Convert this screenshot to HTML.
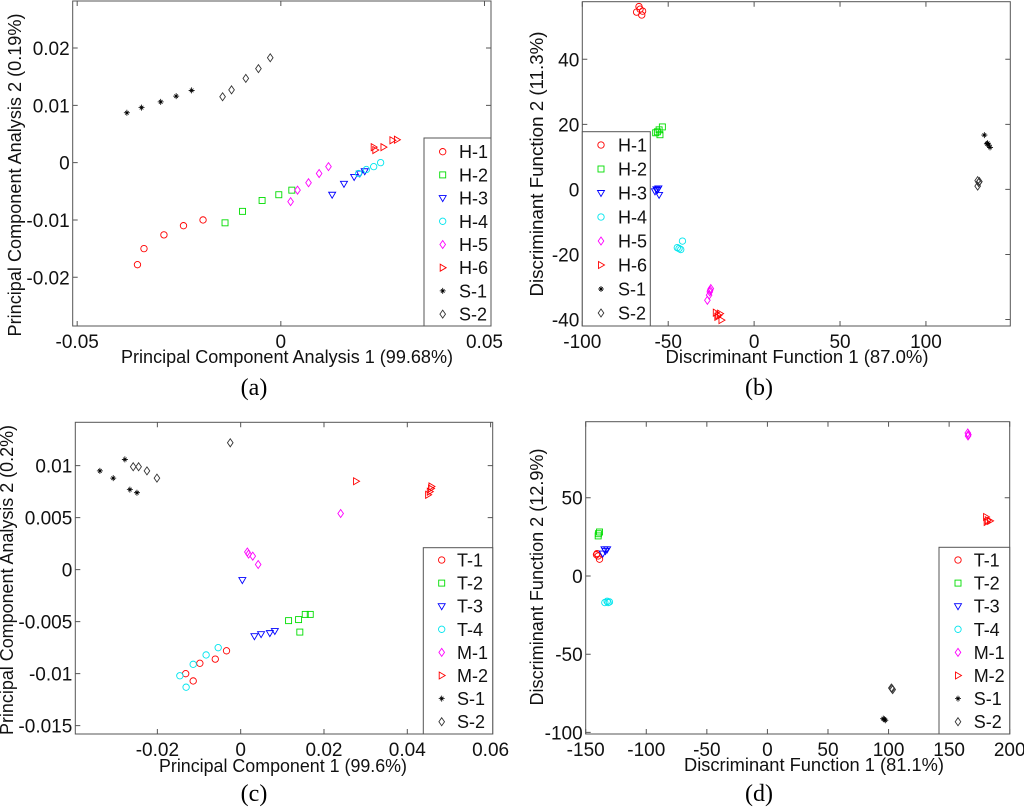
<!DOCTYPE html>
<html><head><meta charset="utf-8"><style>
html,body{margin:0;padding:0;background:#fff;}
svg{display:block;font-family:"Liberation Sans",Arial,sans-serif;}
</style></head><body>
<svg id="fig" width="1024" height="809" viewBox="0 0 1024 809"></svg>
<script>
// ---- Panel (a) data ----
const aNames = ['H-1','H-2','H-3','H-4','H-5','H-6','S-1','S-2'];
const aX = [
 [-0.0352,-0.0336,-0.0287,-0.0239,-0.0191],
 [-0.0137,-0.0094,-0.0046,-0.0005,0.0027],
 [0.0126,0.0155,0.0180,0.0194,0.0206],
 [0.0191,0.0210,0.0228,0.0245],
 [0.0024,0.0041,0.0068,0.0094,0.0117],
 [0.0228,0.0232,0.0252,0.0274,0.0285],
 [-0.0378,-0.0342,-0.0295,-0.0257,-0.0219],
 [-0.0143,-0.0121,-0.0086,-0.0055,-0.0026]];
const aY = [
 [-0.0178,-0.0150,-0.0126,-0.0110,-0.0100],
 [-0.0105,-0.0085,-0.0066,-0.0056,-0.0048],
 [-0.0056,-0.0037,-0.0025,-0.0019,-0.0015],
 [-0.0019,-0.0012,-0.0007,0.0000],
 [-0.0068,-0.0048,-0.0035,-0.0019,-0.0007],
 [0.0027,0.0022,0.0027,0.0039,0.0040],
 [0.0087,0.0096,0.0106,0.0116,0.0126],
 [0.0115,0.0127,0.0147,0.0164,0.0183]];
const aXTicks = [-0.05,0,0.05];
const aXTickLabels = ['-0.05','0','0.05'];
const aYTicks = [-0.02,-0.01,0,0.01,0.02];
const aYTickLabels = ['-0.02','-0.01','0','0.01','0.02'];

// ---- Panel (b) data ----
const bNames = ['H-1','H-2','H-3','H-4','H-5','H-6','S-1','S-2'];
const bX = [
 [-67,-68.4,-65.4,-64.9,-66.4],
 [-57.3,-55.3,-53.4,-54.8,-56.3],
 [-56.9,-55.7,-55.3,-57.7,-56.3],
 [-41.7,-43.7,-42.7,-44.7],
 [-25.2,-25.8,-26.2,-27.2,-25.6],
 [-22.3,-20.8,-19.0,-21.4,-19.8],
 [134,135.5,136.5,137.3,135.9],
 [130.1,130.7,130.1,131.1]];
const bY = [
 [56.2,54.5,53.6,54.8,55.4],
 [17.4,18.3,19.2,16.8,17.7],
 [0,0.3,-1.7,-0.6,-0.2],
 [-15.9,-18.2,-18.5,-17.9],
 [-30.5,-31.5,-32.5,-34.1,-31],
 [-37.9,-38.7,-40.2,-39.2,-38.2],
 [16.7,14,13.6,12.9,14.2],
 [2.7,2.1,1,2.4]];
const bXTicks = [-100,-50,0,50,100];
const bXTickLabels = ['-100','-50','0','50','100'];
const bYTicks = [-40,-20,0,20,40];
const bYTickLabels = ['-40','-20','0','20','40'];

// ---- Panel (c) data ----
const cNames = ['T-1','T-2','T-3','T-4','M-1','M-2','S-1','S-2'];
const cX = [
 [-0.0132,-0.0114,-0.0098,-0.0061,-0.0034],
 [0.0115,0.0139,0.0155,0.0167,0.0142],
 [0.0004,0.0033,0.0049,0.0070,0.0082],
 [-0.0146,-0.0131,-0.0114,-0.0083,-0.0054],
 [0.0016,0.0019,0.0029,0.0042,0.0240],
 [0.0277,0.0458,0.0454,0.0450,0.0457],
 [-0.0338,-0.0306,-0.0278,-0.0266,-0.0249],
 [-0.0258,-0.0245,-0.0225,-0.0201,-0.0025]];
const cY = [
 [-0.0100,-0.0107,-0.0090,-0.0086,-0.0078],
 [-0.0049,-0.0048,-0.0043,-0.0043,-0.0060],
 [-0.0010,-0.0064,-0.0062,-0.0061,-0.0059],
 [-0.0102,-0.0113,-0.0091,-0.0082,-0.0075],
 [0.0017,0.0015,0.0013,0.0005,0.0054],
 [0.0085,0.0080,0.0075,0.0072,0.0078],
 [0.0095,0.0088,0.0106,0.0077,0.0074],
 [0.0099,0.0099,0.0095,0.0088,0.0122]];
const cXTicks = [-0.02,0,0.02,0.04,0.06];
const cXTickLabels = ['-0.02','0','0.02','0.04','0.06'];
const cYTicks = [-0.015,-0.01,-0.005,0,0.005,0.01];
const cYTickLabels = ['-0.015','-0.01','-0.005','0','0.005','0.01'];

// ---- Panel (d) data ----
const dNames = ['T-1','T-2','T-3','T-4','M-1','M-2','S-1','S-2'];
const dX = [
 [-141.1,-139.7,-138.6,-140.6],
 [-139.7,-138.6,-139.5],
 [-135.9,-133.7,-134.5,-132.3],
 [-134.2,-131.5,-132.3,-130.4],
 [165.4,165.9,165.6],
 [180.5,181.9,183.8,181],
 [95.6,97.3,96.5],
 [102.3,103.4,102.8]];
const dY = [
 [13.6,12.8,10.7,14.3],
 [25.6,28.1,27],
 [14.3,16,17,17],
 [-17,-17,-16.2,-16.6],
 [91.4,90.3,89.5],
 [37.7,35.6,35.2,34.5],
 [-91.2,-92.2,-91.6],
 [-71.6,-72.6,-72]];
const dXTicks = [-150,-100,-50,0,50,100,150,200];
const dXTickLabels = ['-150','-100','-50','0','50','100','150','200'];
const dYTicks = [-100,-50,0,50];
const dYTickLabels = ['-100','-50','0','50'];

const markers = ['o','s','v','o','d','>','*','d'];
const colors = ['#ff0000','#00dd00','#0000ff','#00e5ee','#ff00ff','#ff0000','#000000','#333333'];

const NS = 'http://www.w3.org/2000/svg';
const svg = document.getElementById('fig');
function mk(tag, attrs, parent){
  const e = document.createElementNS(NS, tag);
  for (const k in attrs) e.setAttribute(k, attrs[k]);
  (parent||svg).appendChild(e);
  return e;
}
function marker(g, type, x, y, col){
  let e;
  const st = {fill:'none', stroke:col, 'stroke-width':0.9};
  if (type==='o') e = mk('circle', Object.assign({cx:x, cy:y, r:3.2}, st), g);
  else if (type==='s') e = mk('rect', Object.assign({x:x-3, y:y-3, width:6, height:6}, st), g);
  else if (type==='v') e = mk('polygon', Object.assign({points:`${x-3.5},${y-2.5} ${x+3.5},${y-2.5} ${x},${y+3.5}`}, st), g);
  else if (type==='>') e = mk('polygon', Object.assign({points:`${x-2.5},${y-3.5} ${x-2.5},${y+3.5} ${x+3.5},${y}`}, st), g);
  else if (type==='d') e = mk('polygon', Object.assign({points:`${x},${y-4} ${x+2.8},${y} ${x},${y+4} ${x-2.8},${y}`}, st), g);
  else {
    e = mk('path', {d:`M${x-3},${y}H${x+3}M${x},${y-3}V${y+3}M${x-1.8},${y-1.8}L${x+1.8},${y+1.8}M${x-1.8},${y+1.8}L${x+1.8},${y-1.8}`, stroke:col, 'stroke-width':0.8, fill:'none'}, g);
  }
  return e;
}

function panel(p){
  const g = mk('g', {});
  
  
  const sx = v => p.l + (v - p.xlim[0]) / (p.xlim[1] - p.xlim[0]) * (p.r - p.l);
  const sy = v => p.b - (v - p.ylim[0]) / (p.ylim[1] - p.ylim[0]) * (p.b - p.t);
  const ax = mk('rect', {x:p.l, y:p.t, width:p.r-p.l, height:p.b-p.t, fill:'#fff', stroke:'#555', 'stroke-width':1}, g);
  
  
  p.xt.forEach((v,i)=>{
    const x = sx(v);
    mk('path', {d:`M${x},${p.b}v-5M${x},${p.t}v5`, stroke:'#555', 'stroke-width':1}, g);
    const t = mk('text', {x:x, y:p.b+22, 'text-anchor':'middle', 'font-size':19, fill:'#111'}, g);
    t.textContent = p.xtl[i];
    
    
  });
  p.yt.forEach((v,i)=>{
    const y = sy(v);
    mk('path', {d:`M${p.l},${y}h5M${p.r},${y}h-5`, stroke:'#555', 'stroke-width':1}, g);
    const t = mk('text', {x:p.l-3, y:y+7, 'text-anchor':'end', 'font-size':19, fill:'#111'}, g);
    t.textContent = p.ytl[i];
    
    
  });
  p.X.forEach((xs,si)=>{
    const sg = mk('g', {}, g);
    
    
    xs.forEach((xv,j)=>{
      const m = marker(sg, markers[si], sx(xv), sy(p.Y[si][j]), colors[si]);
      
      
    });
  });
  const L = p.leg;
  const lg = mk('g', {}, g);
  
  
  mk('rect', {x:L.x0, y:L.y0, width:L.x1-L.x0, height:L.y1-L.y0, fill:'#fff', stroke:'#555', 'stroke-width':1}, lg);
  p.names.forEach((n,i)=>{
    const y = L.fy + i*L.st;
    const eg = mk('g', {}, lg);
    
    
    marker(eg, markers[i], L.mx, y, colors[i]);
    const t = mk('text', {x:L.tx, y:y+6.5, 'font-size':18, fill:'#111'}, eg);
    t.textContent = n;
  });
  const xl = mk('text', {x:p.xlab.x, y:p.xlab.y, 'text-anchor':'middle', 'font-size':18, fill:'#111', textLength:p.xlab.w, lengthAdjust:'spacingAndGlyphs'}, g);
  xl.textContent = p.xlab.s;
  
  
  const yl = mk('text', {x:0, y:0, transform:`translate(${p.ylab.x},${p.ylab.y}) rotate(-90)`, 'text-anchor':'middle', 'font-size':18, fill:'#111', textLength:p.ylab.w, lengthAdjust:'spacingAndGlyphs'}, g);
  yl.textContent = p.ylab.s;
  
  
  const cap = mk('text', {x:p.cap.x, y:p.cap.y, 'text-anchor':'middle', 'font-size':24, fill:'#000', 'font-family':'"Liberation Serif",serif'}, g);
  cap.textContent = p.cap.s;
  
  
}

panel({id:'a', l:72.7, r:491, t:1, b:326, xlim:[-0.0511,0.0516], ylim:[-0.0285,0.0282],
  xt:aXTicks, xtl:aXTickLabels, yt:aYTicks, ytl:aYTickLabels, X:aX, Y:aY, names:aNames,
  leg:{x0:424,y0:138,x1:491,y1:326,mx:442.7,tx:459,fy:151.7,st:23.2},
  xlab:{x:287,y:363,w:332,s:'Principal Component Analysis 1 (99.68%)'},
  ylab:{x:21,y:175,w:323,s:'Principal Component Analysis 2 (0.19%)'},
  cap:{x:254,y:395,s:'(a)'}});
panel({id:'b', l:582.3, r:1010.3, t:1.7, b:326, xlim:[-100,149.1], ylim:[-42,57.7],
  xt:bXTicks, xtl:bXTickLabels, yt:bYTicks, ytl:bYTickLabels, X:bX, Y:bY, names:bNames,
  leg:{x0:582.3,y0:131.7,x1:650.3,y1:326,mx:601,tx:618,fy:145,st:24},
  xlab:{x:797,y:363,w:263,s:'Discriminant Function 1 (87.0%)'},
  ylab:{x:543,y:164,w:265,s:'Discriminant Function 2 (11.3%)'},
  cap:{x:759,y:395,s:'(b)'}});
panel({id:'c', l:75.3, r:492.7, t:422.3, b:734, xlim:[-0.0397,0.0605], ylim:[-0.0158,0.01417],
  xt:cXTicks, xtl:cXTickLabels, yt:cYTicks, ytl:cYTickLabels, X:cX, Y:cY, names:cNames,
  leg:{x0:423.3,y0:547.7,x1:492.7,y1:734,mx:441.7,tx:457,fy:560,st:23.1},
  xlab:{x:283,y:772,w:248,s:'Principal Component 1 (99.6%)'},
  ylab:{x:13,y:580,w:310,s:'Principal Component Analysis 2 (0.2%)'},
  cap:{x:254,y:801,s:'(c)'}});
panel({id:'d', l:585.7, r:1009.7, t:421.7, b:734, xlim:[-150,200], ylim:[-101,98.6],
  xt:dXTicks, xtl:dXTickLabels, yt:dYTicks, ytl:dYTickLabels, X:dX, Y:dY, names:dNames,
  leg:{x0:939,y0:547.3,x1:1009.7,y1:734,mx:958,tx:973.7,fy:560,st:23.1},
  xlab:{x:814,y:771,w:260,s:'Discriminant Function 1 (81.1%)'},
  ylab:{x:543,y:577,w:257,s:'Discriminant Function 2 (12.9%)'},
  cap:{x:759,y:801,s:'(d)'}});
</script>
</body></html>
